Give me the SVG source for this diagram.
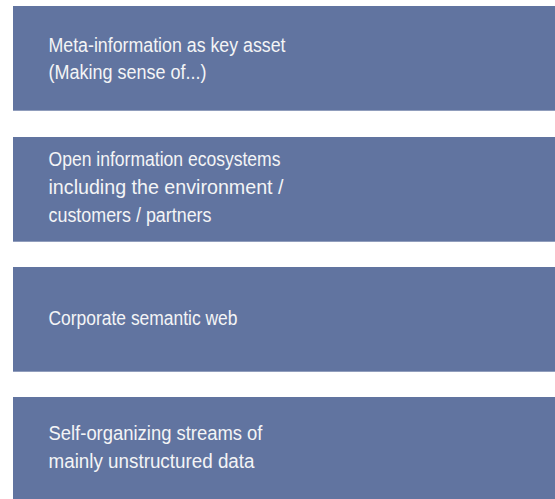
<svg xmlns="http://www.w3.org/2000/svg" width="555" height="499" viewBox="0 0 555 499">
<style>
.box{fill:#6174a0}
.t{font-family:"Liberation Sans",Arial,sans-serif;font-size:19.5px;fill:#f4f4f6}
</style>
<rect width="555" height="499" fill="#ffffff"/>
<g id="node1">
<rect class="box" x="13" y="6" width="542" height="104.7"/>
<text class="t" x="48.5" y="51.5" textLength="237" lengthAdjust="spacingAndGlyphs">Meta-information as key asset</text>
<text class="t" x="48.5" y="78.5" textLength="158" lengthAdjust="spacingAndGlyphs">(Making sense of...)</text>
</g>
<g id="node2">
<rect class="box" x="13" y="137" width="542" height="104.7"/>
<text class="t" x="48.5" y="166" textLength="232" lengthAdjust="spacingAndGlyphs">Open information ecosystems</text>
<text class="t" x="48.5" y="194" textLength="235" lengthAdjust="spacingAndGlyphs">including the environment /</text>
<text class="t" x="48.5" y="222" textLength="163" lengthAdjust="spacingAndGlyphs">customers / partners</text>
</g>
<g id="node3">
<rect class="box" x="13" y="267" width="542" height="104.7"/>
<text class="t" x="48.5" y="325" textLength="189" lengthAdjust="spacingAndGlyphs">Corporate semantic web</text>
</g>
<g id="node4">
<rect class="box" x="13" y="397" width="542" height="102"/>
<text class="t" x="48.5" y="440" textLength="214" lengthAdjust="spacingAndGlyphs">Self-organizing streams of</text>
<text class="t" x="48.5" y="468" textLength="206" lengthAdjust="spacingAndGlyphs">mainly unstructured data</text>
</g>
<g id="connectors"></g>
</svg>
